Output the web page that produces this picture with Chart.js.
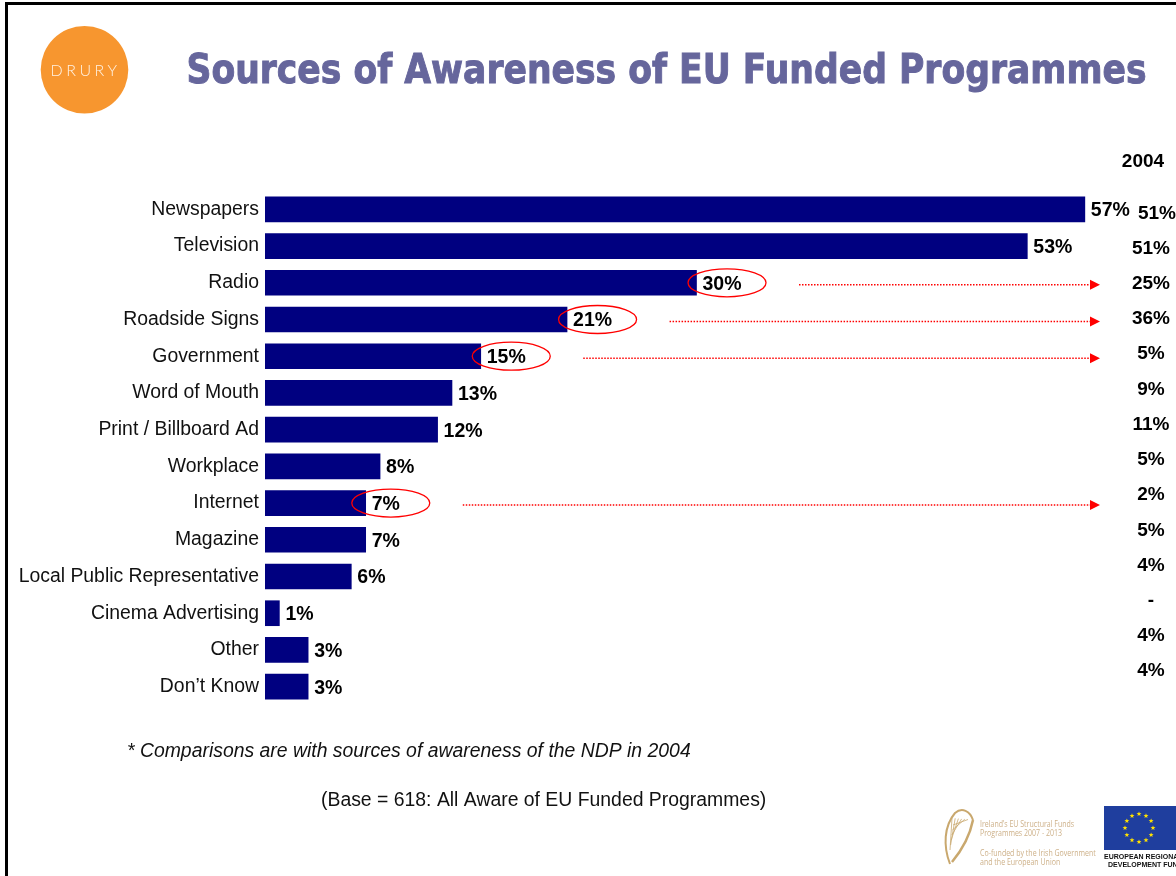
<!DOCTYPE html>
<html><head><meta charset="utf-8">
<script src="https://cdn.jsdelivr.net/npm/chart.js@4/dist/chart.umd.min.js"></script>
<style>html,body{margin:0;padding:0;background:#fff}#wrap{width:1176px;height:876px;position:relative;overflow:hidden}</style>
</head><body><div id="wrap"><canvas id="c" width="1176" height="876"></canvas></div>
<script>
const categories = ['Newspapers','Television','Radio','Roadside Signs','Government','Word of Mouth','Print / Billboard Ad','Workplace','Internet','Magazine','Local Public Representative','Cinema Advertising','Other','Don\u2019t Know'];
const values2008 = [57,53,30,21,15,13,12,8,7,7,6,1,3,3];
const values2004 = [51,51,25,36,5,9,11,5,2,5,4,null,4,4];
const highlighted = ['Radio','Roadside Signs','Government','Internet'];
const titleText = 'Sources of Awareness of EU Funded Programmes';
const column2004Label = '2004';
const footnoteText = '* Comparisons are with sources of awareness of the NDP in 2004';
const baseText = '(Base = 618: All Aware of EU Funded Programmes)';
const logoText = 'DRURY';
const irishLogoLines = ['Ireland\u2019s EU Structural Funds','Programmes 2007 - 2013','Co-funded by the Irish Government','and the European Union'];
const euLogoLines = ['EUROPEAN REGIONAL','DEVELOPMENT FUND'];

const SANS = '"Liberation Sans", Arial, sans-serif';

function pct(v){ return v === null ? '-' : v + '%'; }

const decor = {
  id: 'decor',
  beforeDraw(chart){
    const ctx = chart.ctx;
    ctx.save();
    ctx.fillStyle = '#fff';
    ctx.fillRect(0,0,chart.width,chart.height);
    // frame
    ctx.fillStyle = '#000';
    ctx.fillRect(5,2,chart.width-5,3);
    ctx.fillRect(5,2,3,chart.height-2);
    // Drury logo
    ctx.fillStyle = '#F7962F';
    ctx.beginPath(); ctx.arc(84.5,69.7,43.8,0,Math.PI*2); ctx.fill();
    ctx.fillStyle = '#FFF1E2';
    ctx.font = '300 16px Lato, "Open Sans", sans-serif';
    ctx.textAlign = 'center'; ctx.textBaseline = 'middle';
    if ('letterSpacing' in ctx) ctx.letterSpacing = '3.5px';
    ctx.fillText(logoText, 85.5, 70.5);
    if ('letterSpacing' in ctx) ctx.letterSpacing = '0px';
    // title
    ctx.font = 'bold 41px "DejaVu Sans", Verdana, sans-serif';
    ctx.textAlign = 'left'; ctx.textBaseline = 'alphabetic';
    const tw = ctx.measureText(titleText).width;
    const sx = 960 / tw;
    ctx.save();
    ctx.translate(186.5, 83);
    ctx.scale(sx, 1);
    ctx.fillStyle = '#66669C';
    ctx.strokeStyle = '#66669C';
    ctx.lineWidth = 1;
    ctx.fillText(titleText, 0, 0);
    ctx.strokeText(titleText, 0, 0);
    ctx.restore();
    ctx.restore();
  },
  afterDatasetsDraw(chart){
    const ctx = chart.ctx;
    const meta = chart.getDatasetMeta(0);
    ctx.save();
    ctx.textBaseline = 'middle';
    // header for 2004 column
    ctx.font = 'bold 19px ' + SANS;
    ctx.fillStyle = '#000';
    ctx.textAlign = 'center';
    ctx.fillText(column2004Label, 1143, 162);
    meta.data.forEach((bar, i) => {
      const label = pct(values2008[i]);
      ctx.font = 'bold 19.5px ' + SANS;
      ctx.fillStyle = '#000';
      ctx.textAlign = 'left';
      const lx = bar.x + 6;
      ctx.fillText(label, lx, bar.y + 1.5);
      // 2004 value
      ctx.font = 'bold 19px ' + SANS;
      ctx.textAlign = 'center';
      const drift = 4 - 1.5 * i;
      ctx.fillText(pct(values2004[i]), i === 0 ? 1157 : 1151, bar.y + drift);
      if (highlighted.includes(categories[i])) {
        ctx.font = 'bold 19.5px ' + SANS;
        const w = ctx.measureText(label).width;
        const cx = lx + w / 2 + 5;
        const cy = bar.y;
        ctx.strokeStyle = '#FF0000';
        ctx.lineWidth = 1.3;
        ctx.beginPath();
        ctx.ellipse(cx, cy, 39, 14, 0, 0, Math.PI * 2);
        ctx.stroke();
        // dotted arrow
        const ay = bar.y + 2;
        const x0 = cx + 39 + 33;
        const x1 = 1100;
        ctx.setLineDash([1.5, 1.5]);
        ctx.lineWidth = 1.5;
        ctx.beginPath();
        ctx.moveTo(x0, ay); ctx.lineTo(x1 - 9, ay);
        ctx.stroke();
        ctx.setLineDash([]);
        ctx.fillStyle = '#FF0000';
        ctx.beginPath();
        ctx.moveTo(x1, ay); ctx.lineTo(x1 - 10, ay - 5); ctx.lineTo(x1 - 10, ay + 5);
        ctx.closePath(); ctx.fill();
      }
    });
    ctx.restore();
  },
  afterDraw(chart){
    const ctx = chart.ctx;
    ctx.save();
    ctx.fillStyle = '#111';
    ctx.textBaseline = 'middle';
    ctx.textAlign = 'left';
    ctx.font = 'italic 19.4px ' + SANS;
    ctx.fillText(footnoteText, 127, 752);
    ctx.font = '19.4px ' + SANS;
    ctx.fillText(baseText, 321, 801);
    // Irish harp logo (simplified)
    ctx.strokeStyle = '#C9A86E';
    ctx.fillStyle = '#C9A86E';
    ctx.lineWidth = 2;
    ctx.beginPath();
    ctx.moveTo(950, 864);
    ctx.bezierCurveTo(943, 846, 944, 826, 955, 813);
    ctx.bezierCurveTo(962, 807, 970, 811, 973, 820);
    ctx.stroke();
    ctx.lineWidth = 2.5;
    ctx.beginPath();
    ctx.moveTo(973, 820); ctx.bezierCurveTo(970, 835, 962, 850, 952, 862);
    ctx.stroke();
    ctx.lineWidth = 0.8;
    for (let k = 0; k < 6; k++) {
      ctx.beginPath();
      ctx.moveTo(952 + k * 3.2, 818 + k * 0.3);
      ctx.lineTo(950 + k * 0.6, 850 - k * 5);
      ctx.stroke();
    }
    ctx.fillStyle = '#CDB088';
    const ly = [824, 833, 853, 862];
    irishLogoLines.forEach((t, k) => {
      ctx.save();
      ctx.translate(980, ly[k]);
      ctx.scale(0.78, 1);
      ctx.font = '9px "Open Sans", sans-serif';
      ctx.fillText(t, 0, 0);
      ctx.restore();
    });
    // EU flag
    ctx.fillStyle = '#1F3E9E';
    ctx.fillRect(1104, 806, 72, 44);
    ctx.fillStyle = '#FFE100';
    for (let k = 0; k < 12; k++) {
      const a = k * Math.PI / 6;
      const sxp = 1139 + 14 * Math.cos(a), syp = 828 + 14 * Math.sin(a);
      ctx.beginPath();
      for (let p = 0; p < 10; p++) {
        const r = p % 2 === 0 ? 2.6 : 1.1;
        const aa = -Math.PI / 2 + p * Math.PI / 5;
        const px = sxp + r * Math.cos(aa), py = syp + r * Math.sin(aa);
        if (p === 0) ctx.moveTo(px, py); else ctx.lineTo(px, py);
      }
      ctx.closePath(); ctx.fill();
    }
    ctx.fillStyle = '#111';
    ctx.font = 'bold 7px ' + SANS;
    ctx.fillText(euLogoLines[0], 1104, 857);
    ctx.fillText(euLogoLines[1], 1108, 865);
    ctx.restore();
  }
};

new Chart(document.getElementById('c'), {
  type: 'bar',
  data: {
    labels: categories,
    datasets: [{
      data: values2008,
      backgroundColor: '#000080',
      borderWidth: 0,
      barThickness: 25
    }]
  },
  options: {
    indexAxis: 'y',
    responsive: false,
    animation: false,
    devicePixelRatio: 1,
    layout: { padding: { left: 10, top: 191, bottom: 171, right: 48 } },
    plugins: { legend: { display: false }, tooltip: { enabled: false } },
    scales: {
      x: { display: false, min: 0, max: 60 },
      y: {
        grid: { display: false, drawTicks: false },
        border: { display: false },
        ticks: { color: '#111', padding: 6, font: { family: SANS, size: 19.4 } },
        afterFit(scale){ scale.width = 255; }
      }
    }
  },
  plugins: [decor]
});
</script>
</body></html>
